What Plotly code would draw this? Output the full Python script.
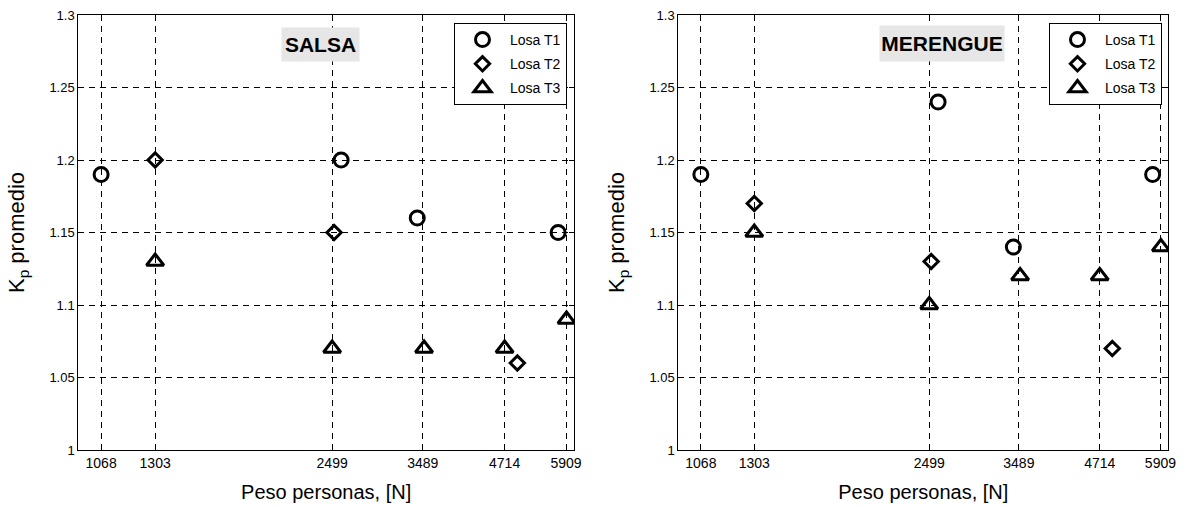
import math
import plotly.graph_objects as go

# ---------------- data ----------------
x_ticks = [1068, 1303, 2499, 3489, 4714, 5909]
x_ticklabels = ["1068", "1303", "2499", "3489", "4714", "5909"]
y_ticks = [1.0, 1.05, 1.1, 1.15, 1.2, 1.25, 1.3]
y_ticklabels = ["1", "1.05", "1.1", "1.15", "1.2", "1.25", "1.3"]

series_names = ["Losa T1", "Losa T2", "Losa T3"]

x_T1 = [1068, 2583, 3418, 5740]
x_T2 = [1303, 2517, 4940]
x_T3 = [1303, 2499, 3505, 4714, 5920]

salsa_T1 = [1.19, 1.20, 1.16, 1.15]
salsa_T2 = [1.20, 1.15, 1.06]
salsa_T3 = [1.13, 1.07, 1.07, 1.07, 1.09]

merengue_T1 = [1.19, 1.24, 1.14, 1.19]
merengue_T2 = [1.17, 1.13, 1.07]
merengue_T3 = [1.15, 1.10, 1.12, 1.12, 1.14]

panel_titles = ["SALSA", "MERENGUE"]

# ---------------- styling ----------------
W, H = 1188, 506
FONT = "Liberation Sans, Arial, sans-serif"

symbols = ["circle-open", "diamond-open", "triangle-up-open"]
sizes = [14, 11, 15]

fig = go.Figure()

panels = [
    ("x", "y", "legend", "s", [x_T1, x_T2, x_T3], [salsa_T1, salsa_T2, salsa_T3]),
    ("x2", "y2", "legend2", "m", [x_T1, x_T2, x_T3], [merengue_T1, merengue_T2, merengue_T3]),
]
for xa, ya, lg, pre, xs, ys in panels:
    for i in range(3):
        fig.add_trace(go.Scatter(
            x=xs[i], y=ys[i], mode="markers", name=series_names[i],
            xaxis=xa, yaxis=ya, legend=lg, legendgroup=pre + str(i),
            marker=dict(symbol=symbols[i], size=sizes[i], color="black",
                        line=dict(color="black", width=3)),
        ))


def xaxis(domain):
    return dict(
        domain=domain, type="log",
        range=[math.log10(982), math.log10(6085)],
        tickmode="array", tickvals=x_ticks, ticktext=x_ticklabels,
        ticks="inside", ticklen=5, tickcolor="black", tickwidth=1,
        showline=True, linecolor="black", linewidth=1, mirror="ticks",
        showgrid=True, gridcolor="black", gridwidth=1, griddash="6px,5px",
        zeroline=False, automargin=False,
        tickfont=dict(family=FONT, size=14, color="black"),
        title=dict(text="Peso personas, [N]", standoff=15,
                   font=dict(family=FONT, size=20, color="black")),
    )


def yaxis(anchor):
    return dict(
        domain=[1 - 450 / H, 1 - 15 / H], anchor=anchor,
        range=[1.0, 1.3],
        tickmode="array", tickvals=y_ticks, ticktext=y_ticklabels,
        ticks="inside", ticklen=5, tickcolor="black", tickwidth=1,
        showline=True, linecolor="black", linewidth=1, mirror="ticks",
        showgrid=True, gridcolor="black", gridwidth=1, griddash="6px,5px",
        zeroline=False, automargin=False,
        tickfont=dict(family=FONT, size=13, color="black"),
        title=dict(text="K<sub>p</sub> promedio", standoff=18,
                   font=dict(family=FONT, size=22, color="black")),
    )


def legend(xright):
    return dict(
        x=xright / W, xanchor="right", y=1 - 23 / H, yanchor="top",
        bgcolor="white", bordercolor="black", borderwidth=1,
        font=dict(family=FONT, size=14, color="black"),
        itemwidth=45, tracegroupgap=3, traceorder="grouped",
    )


fig.update_layout(
    width=W, height=H,
    margin=dict(l=0, r=0, t=0, b=0),
    paper_bgcolor="white", plot_bgcolor="white",
    showlegend=True,
    xaxis=dict(xaxis([78.3 / W, 574 / W]), anchor="y"),
    yaxis=yaxis("x"),
    xaxis2=dict(xaxis([678.3 / W, 1168.3 / W]), anchor="y2"),
    yaxis2=yaxis("x2"),
    legend=legend(567),
    legend2=legend(1162),
    annotations=[
        dict(text="<b>" + panel_titles[0] + "</b>", xref="paper", yref="paper",
             x=320 / W, y=1 - 44.5 / H, xanchor="center", yanchor="middle",
             showarrow=False, width=75, height=31, bgcolor="#e6e6e6",
             font=dict(family=FONT, size=21, color="black")),
        dict(text="<b>" + panel_titles[1] + "</b>", xref="paper", yref="paper",
             x=942 / W, y=1 - 44 / H, xanchor="center", yanchor="middle",
             showarrow=False, width=122, height=33, bgcolor="#e6e6e6",
             font=dict(family=FONT, size=21, color="black")),
    ],
)

fig.write_html("out.html", config={"displayModeBar": False},
               post_script="document.body.style.margin='0px';")
